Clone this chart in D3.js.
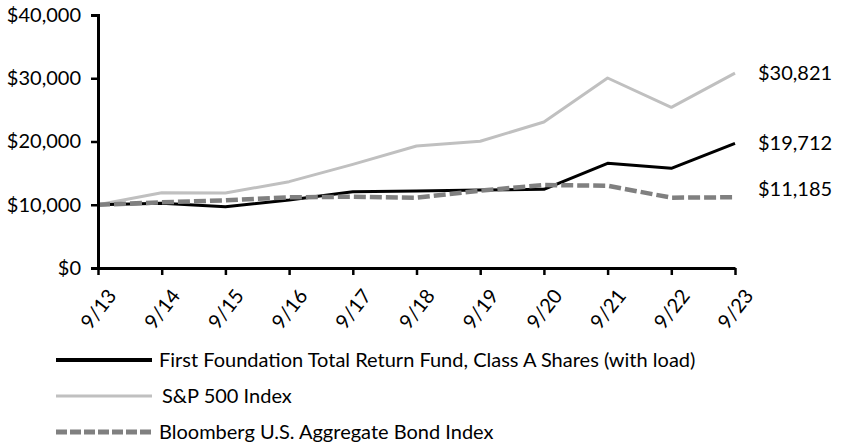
<!DOCTYPE html>
<html>
<head>
<meta charset="utf-8">
<script src="https://cdn.jsdelivr.net/npm/d3@7"></script>
<style>
  body { margin: 0; background: #fff; }
  svg text { font-family: Lato, "Open Sans", sans-serif; fill: #000; }
</style>
</head>
<body>
<svg width="841" height="445"></svg>
<script>
// Data (hypothetical $10,000 investment)
const years = ["9/13", "9/14", "9/15", "9/16", "9/17", "9/18", "9/19", "9/20", "9/21", "9/22", "9/23"];
const fundValues = [10000, 10230, 9700, 10750, 12060, 12170, 12330, 12440, 16550, 15760, 19712];
const spValues = [10000, 11900, 11850, 13650, 16390, 19290, 20030, 23080, 30040, 25400, 30821];
const bondValues = [10000, 10380, 10700, 11180, 11270, 11120, 12220, 13120, 13010, 11120, 11185];
const yTicks = [0, 10000, 20000, 30000, 40000];
const seriesNames = [
  "First Foundation Total Return Fund, Class A Shares (with load)",
  "S&P 500 Index",
  "Bloomberg U.S. Aggregate Bond Index"
];

const w = 841, h = 445;
var margin = {top: 15, right: 106, bottom: 177, left: 98},
    width = w - margin.left - margin.right,
    height = h - margin.top - margin.bottom;

var svg = d3.select("svg")
  .append("g")
    .attr("transform", "translate(" + margin.left + "," + margin.top + ")");

var x = d3.scalePoint().domain(years).range([0, width]);
var y = d3.scaleLinear().domain([0, 40000]).range([height, 0]);

var fmt = d3.format("$,.0f");

// series styles
var series = [
  {name: seriesNames[0], values: fundValues, color: "#000000", width: 3, dash: null, lw: 4},
  {name: seriesNames[1], values: spValues, color: "#c0c0c0", width: 3, dash: null, lw: 3},
  {name: seriesNames[2], values: bondValues, color: "#808080", width: 4.5, dash: "12,4", lw: 5}
];

var line = d3.line()
    .x(function(d, i) { return x(years[i]); })
    .y(function(d) { return y(d); });

// draw S&P first, then fund, then bond on top
[1, 0, 2].forEach(function(k) {
  var s = series[k];
  svg.append("path")
      .attr("d", line(s.values))
      .attr("fill", "none")
      .attr("stroke", s.color)
      .attr("stroke-width", s.width)
      .attr("stroke-dasharray", s.dash)
      .attr("stroke-linejoin", "round");
});

// end labels (bond label nudged up a bit like the original)
var labelShift = [0, 0, -8];
series.forEach(function(s, k) {
  var last = s.values[s.values.length - 1];
  svg.append("text")
      .attr("x", width + 23)
      .attr("y", y(last) + labelShift[k])
      .attr("dy", "0.35em")
      .style("font-size", "20px")
      .text(fmt(last));
});

// Y axis
var yAxis = svg.append("g")
    .call(d3.axisLeft(y).tickValues(yTicks).tickFormat(fmt).tickSize(7).tickPadding(10));
yAxis.select(".domain").attr("stroke-width", 3);
yAxis.selectAll(".tick line").attr("stroke-width", 2.5);
yAxis.selectAll("text").style("font-size", "20px").style("font-family", "Lato");

// X axis
var xAxis = svg.append("g")
    .attr("transform", "translate(0," + height + ")")
    .call(d3.axisBottom(x).tickSize(7).tickSizeOuter(0));
xAxis.select(".domain").attr("stroke-width", 3);
xAxis.selectAll(".tick line").attr("stroke-width", 2.5);
xAxis.selectAll("text")
    .style("font-size", "20px")
    .style("font-family", "Lato")
    .attr("text-anchor", "middle")
    .attr("y", 0)
    .attr("dy", "0.35em")
    .attr("transform", "translate(0,41) rotate(-52)");

// Legend
var legend = d3.select("svg").append("g");
series.forEach(function(s, k) {
  var ly = 360 + k * 36;
  legend.append("line")
      .attr("x1", 56).attr("x2", 152)
      .attr("y1", ly).attr("y2", ly)
      .attr("stroke", s.color)
      .attr("stroke-width", s.lw)
      .attr("stroke-dasharray", s.dash ? "11,3" : null);
  legend.append("text")
      .attr("x", k === 1 ? 162 : 159)
      .attr("y", ly)
      .attr("dy", "0.35em")
      .style("font-size", "20px")
      .text(s.name);
});
</script>
</body>
</html>
